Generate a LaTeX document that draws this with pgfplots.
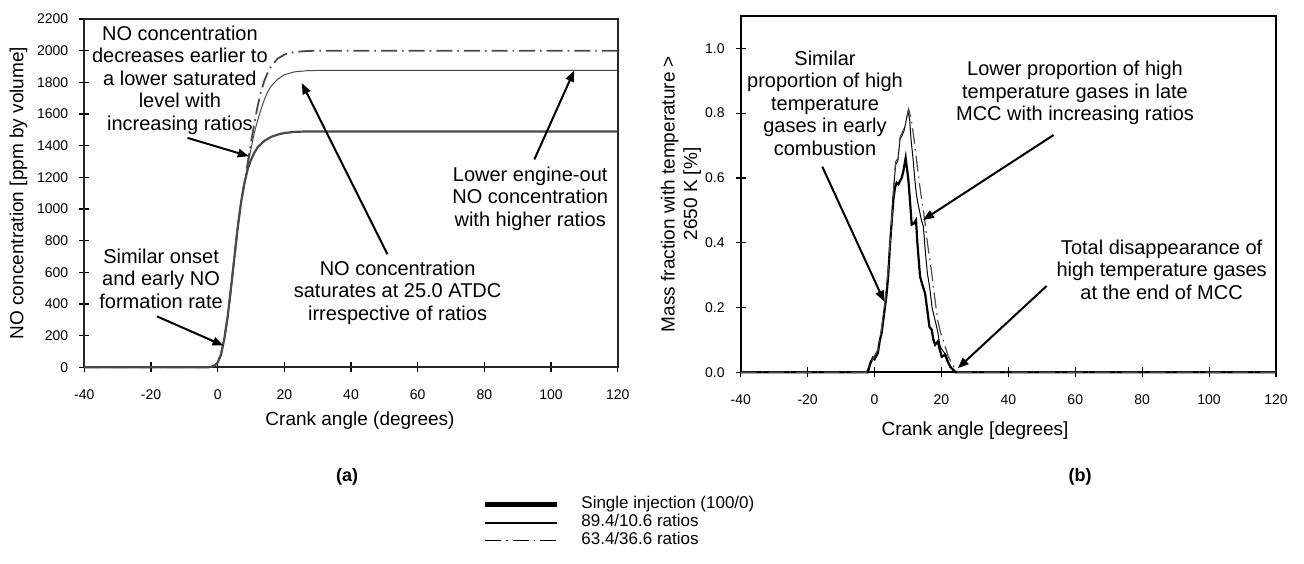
\documentclass[border=0pt]{standalone}
\usepackage{fontspec}
\setmainfont{Liberation Sans}
\usepackage{pgfplots}
\pgfplotsset{compat=1.18}
\usetikzlibrary{arrows.meta}

\definecolor{lgray}{HTML}{4A4A4A}
\tikzset{
  ann/.style={align=center,font=\fontsize{10}{11.25}\selectfont},
  arr/.style={line width=1pt,-{Triangle[length=5.5pt,width=4.2pt]}},
  dashdot/.style={dash pattern=on 8pt off 2.5pt on 0.8pt off 2.5pt}
}
\pgfplotsset{
  chart/.style={
    scale only axis,
    xmin=-40, xmax=120,
    xtick={-40,-20,...,120},
    xtick pos=bottom, ytick pos=left,
    tick align=center,
    major tick length=5pt,
    tick style={line width=0.6pt,black},
    axis line style={line width=0.9pt},
    /pgf/number format/assume math mode=true,
    /pgf/number format/set thousands separator={},
    ticklabel style={font=\fontsize{7}{8}\selectfont},
    xticklabel style={yshift=-5pt},
    yticklabel style={xshift=-2pt},
    clip=false
  }
}

\begin{document}
\begin{tikzpicture}
\path[use as bounding box] (0,0) rectangle (652pt,281.5pt);

% ---------- (a) NO concentration ----------
\begin{axis}[chart,
  at={(42.15pt,97.85pt)}, anchor=south west,
  width=266.7pt, height=174.15pt,
  ymin=0, ymax=2200,
  ytick={0,200,...,2200},
  axis line style={line width=0.9pt,black!85},
  legend style={at={(axis description cs:0.7456,-0.367)}, anchor=north west,
    draw=none, fill=none, inner sep=0pt, row sep=0pt,
    font=\fontsize{8.5}{9}\selectfont,
    nodes={inner sep=0pt, text height=6.5pt, text depth=2.5pt, anchor=west},
    /tikz/every odd column/.append style={column sep=11pt}},
  legend cell align=left,
  legend image code/.code={\draw[#1] (0pt,0pt) -- (36pt,0pt);}
]
\addplot[lgray, line width=1.1pt, forget plot] coordinates {
 (-40,0) (-3,0) (-2,3) (-1,10) (0,30) (1,80) (2,180) (3,320) (4,500) (5,690)
 (6,880) (7,1040) (8,1160) (9,1250) (10,1310) (11,1355) (12,1390) (14,1430)
 (16,1455) (18,1470) (20,1480) (23,1487) (27,1490) (120,1490)
};
\addplot[lgray, line width=0.5pt, forget plot] coordinates {
 (-40,0) (-3,0) (-2,3) (-1,10) (0,30) (1,80) (2,180) (3,320) (4,500) (5,690)
 (6,880) (7,1040) (8,1160) (9,1270) (10,1380) (11,1480) (12,1560) (13,1630)
 (14,1690) (15,1740) (16,1775) (18,1820) (20,1848) (23,1866) (27,1874) (30,1875) (120,1875)
};
\addplot[lgray, line width=0.9pt, dashdot, forget plot] coordinates {
 (-40,0) (-3,0) (-2,3) (-1,10) (0,30) (1,80) (2,180) (3,320) (4,500) (5,690)
 (6,880) (7,1040) (8,1160) (9,1290) (10,1420) (11,1540) (12,1650) (13,1740)
 (14,1810) (15,1860) (16,1900) (18,1950) (20,1975) (23,1992) (27,1998) (30,2000) (120,2000)
};
\addlegendimage{black, line width=2.5pt}
\addlegendentry{Single injection (100/0)}
\addlegendimage{black, line width=1pt}
\addlegendentry{89.4/10.6 ratios}
\addlegendimage{black, line width=0.7pt, dashdot}
\addlegendentry{63.4/36.6 ratios}
\end{axis}

% ---------- (b) mass fraction ----------
\begin{axis}[chart,
  at={(370.35pt,95.35pt)}, anchor=south west,
  width=267.65pt, height=178.15pt,
  ymin=0, ymax=1.1,
  ytick={0,0.2,...,1.0},
  axis line style={line width=0.9pt,black},
  yticklabel style={/pgf/number format/.cd,fixed,fixed zerofill,precision=1}
]
\addplot[black, line width=1.1pt] coordinates {
 (-40,0) (-2,0) (-1.2,0.03) (-0.5,0.045) (0,0.04) (0.5,0.05) (1,0.06) (1.6,0.1)
 (2.1,0.12) (2.6,0.16) (3.1,0.2) (3.6,0.24) (4.1,0.3) (4.6,0.39) (5.1,0.46)
 (5.6,0.53) (6.1,0.57) (6.6,0.585) (7.1,0.58) (7.6,0.59) (8.1,0.6) (8.6,0.62)
 (9.3,0.662) (10.1,0.595) (10.6,0.53) (11.1,0.456) (11.8,0.46) (12.4,0.47)
 (12.8,0.4) (13.6,0.296) (14.3,0.27) (15.1,0.244) (15.8,0.19) (16.4,0.141)
 (17.1,0.131) (17.6,0.1) (18.1,0.085) (18.9,0.095) (19.5,0.07) (20.1,0.048)
 (21.1,0.054) (21.8,0.035) (22.6,0.018) (24.1,0) (120,0)
};
\addplot[black, line width=0.5pt] coordinates {
 (-40,0) (-2.5,0) (-1.5,0.02) (-0.5,0.04) (0,0.05) (1,0.065) (2,0.12) (3,0.2)
 (4,0.3) (5,0.44) (5.8,0.58) (6.3,0.64) (7,0.655) (7.6,0.72) (8.2,0.73)
 (8.8,0.745) (9.5,0.78) (10,0.805) (10.5,0.78) (10.9,0.72) (11.5,0.66) (12,0.6)
 (12.5,0.55) (13,0.52) (14,0.47) (14.6,0.45) (15.2,0.37) (15.8,0.306) (16.5,0.26)
 (17.2,0.2) (18.1,0.16) (18.8,0.13) (19.6,0.08) (20.5,0.065) (21.3,0.055)
 (22,0.035) (22.6,0.015) (23.5,0.01) (24.5,0) (120,0)
};
\addplot[black!70, line width=0.6pt, dashdot] coordinates {
 (-40,0) (-2.5,0) (-1.5,0.025) (0,0.05) (1,0.07) (2,0.13) (3,0.21) (4,0.31)
 (5,0.45) (5.8,0.59) (6.3,0.65) (7,0.66) (7.6,0.725) (8.5,0.745) (9.3,0.77)
 (10.2,0.812) (11,0.78) (11.8,0.72) (12.5,0.66) (13.2,0.6) (14,0.54) (15,0.47)
 (15.8,0.40) (16.5,0.35) (17.1,0.306) (18,0.23) (18.9,0.16) (19.8,0.12)
 (20.5,0.1) (21.1,0.08) (22,0.05) (23,0.03) (24.1,0.01) (25,0) (120,0)
};
\end{axis}

% ---------- texts, in pixel units of the reference ----------
\begin{scope}[shift={(0pt,281.5pt)}, x=0.5pt, y=-0.5pt]
  % axis titles
  \node[rotate=90, font=\fontsize{9.5}{10}\selectfont] at (18.4,193) {NO concentration [ppm by volume]};
  \node[font=\fontsize{9.5}{10}\selectfont] at (360,421) {Crank angle (degrees)};
  \node[rotate=90, align=center, font=\fontsize{9.5}{11.2}\selectfont] at (681,194)
    {Mass fraction with temperature >\\2650 K [\%]};
  \node[font=\fontsize{9.5}{10}\selectfont] at (975,431) {Crank angle [degrees]};
  \node[font=\bfseries\fontsize{9}{10}\selectfont] at (347,477) {(a)};
  \node[font=\bfseries\fontsize{9}{10}\selectfont] at (1080,477) {(b)};

  % annotations (a)
  \node[ann] at (179.9,80.2) {NO concentration\\decreases earlier to\\a lower saturated\\level with\\increasing ratios};
  \draw[arr] (187.6,137.9) -- (248.8,156.2);
  \node[ann] at (161.1,278.4) {Similar onset\\and early NO\\formation rate};
  \draw[arr] (157,316.4) -- (223.5,345.6);
  \node[ann] at (397.6,292.5) {NO concentration\\saturates at 25.0 ATDC\\irrespective of ratios};
  \draw[arr] (387.4,254.2) -- (301.8,83.1);
  \node[ann] at (530.2,198.6) {Lower engine-out\\NO concentration\\with higher ratios};
  \draw[arr] (534.3,159.5) -- (574.2,70.5);

  % annotations (b)
  \node[ann] at (825,103.3) {Similar\\proportion of high\\temperature\\gases in early\\combustion};
  \draw[arr] (822.3,166.7) -- (884.3,301.7);
  \node[ann] at (1075,93.2) {Lower proportion of high\\temperature gases in late\\MCC with increasing ratios};
  \draw[arr] (1053.6,135) -- (923,220);
  \node[ann] at (1161.6,269.7) {Total disappearance of\\high temperature gases\\at the end of MCC};
  \draw[arr] (1046.6,286) -- (957.7,368.3);
\end{scope}
\end{tikzpicture}
\end{document}
